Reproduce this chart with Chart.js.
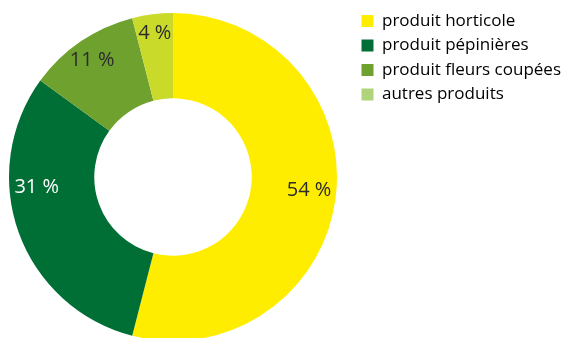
<!DOCTYPE html>
<html>
<head>
<meta charset="utf-8">
<script src="https://cdn.jsdelivr.net/npm/chart.js@4"></script>
<style>
  html, body { margin: 0; padding: 0; background: #fff; overflow: hidden; }
  #wrap { width: 579px; height: 349px; margin-left: -8px; }
</style>
</head>
<body>
<div id="wrap"><canvas id="pie"></canvas></div>
<script>
const categories = ["produit horticole", "produit pépinières", "produit fleurs coupées", "autres produits"];
const shares = [54, 31, 11, 4];
const sliceColors = ["#ffed00", "#006f36", "#6fa12f", "#c9da2a"];
const legendColors = ["#ffed00", "#006f36", "#6fa12f", "#b0d47a"];
const labelColors = ["#2b2b2b", "#ffffff", "#2b2b2b", "#2b2b2b"];

// draws the "54 %" style labels inside the ring
const sliceLabels = {
  id: "sliceLabels",
  afterDatasetsDraw(chart, args, opts) {
    const ctx = chart.ctx;
    const meta = chart.getDatasetMeta(0);
    ctx.save();
    ctx.font = "20px 'Open Sans'";
    ctx.textAlign = "center";
    ctx.textBaseline = "middle";
    meta.data.forEach((arc, i) => {
      const a = (arc.startAngle + arc.endAngle) / 2 + opts.shift[i];
      const r = arc.innerRadius + (arc.outerRadius - arc.innerRadius) * opts.pos[i];
      ctx.fillStyle = labelColors[i];
      ctx.fillText(shares[i] + " %", arc.x + Math.cos(a) * r, arc.y + Math.sin(a) * r);
    });
    ctx.restore();
  }
};

new Chart(document.getElementById("pie"), {
  type: "doughnut",
  plugins: [sliceLabels],
  data: {
    labels: categories,
    datasets: [{
      data: shares,
      backgroundColor: sliceColors,
      borderWidth: 0
    }]
  },
  options: {
    responsive: true,
    maintainAspectRatio: false,
    animation: false,
    radius: 164,
    cutout: "48%",
    layout: { padding: { top: 5, bottom: 0, left: 0, right: 0 } },
    plugins: {
      tooltip: { enabled: false },
      sliceLabels: { pos: [0.68, 0.68, 0.74, 0.78], shift: [-0.03, 0.27, -0.01, 0] },
      legend: {
        position: "right",
        align: "start",
        labels: {
          boxWidth: 12,
          boxHeight: 12,
          padding: 7.5,
          color: "#555555",
          font: { family: "'Open Sans'", size: 17 },
          generateLabels(chart) {
            return categories.map((c, i) => ({
              text: c,
              fillStyle: legendColors[i],
              strokeStyle: legendColors[i],
              lineWidth: 0,
              index: i
            }));
          }
        }
      }
    }
  }
});
</script>
</body>
</html>
